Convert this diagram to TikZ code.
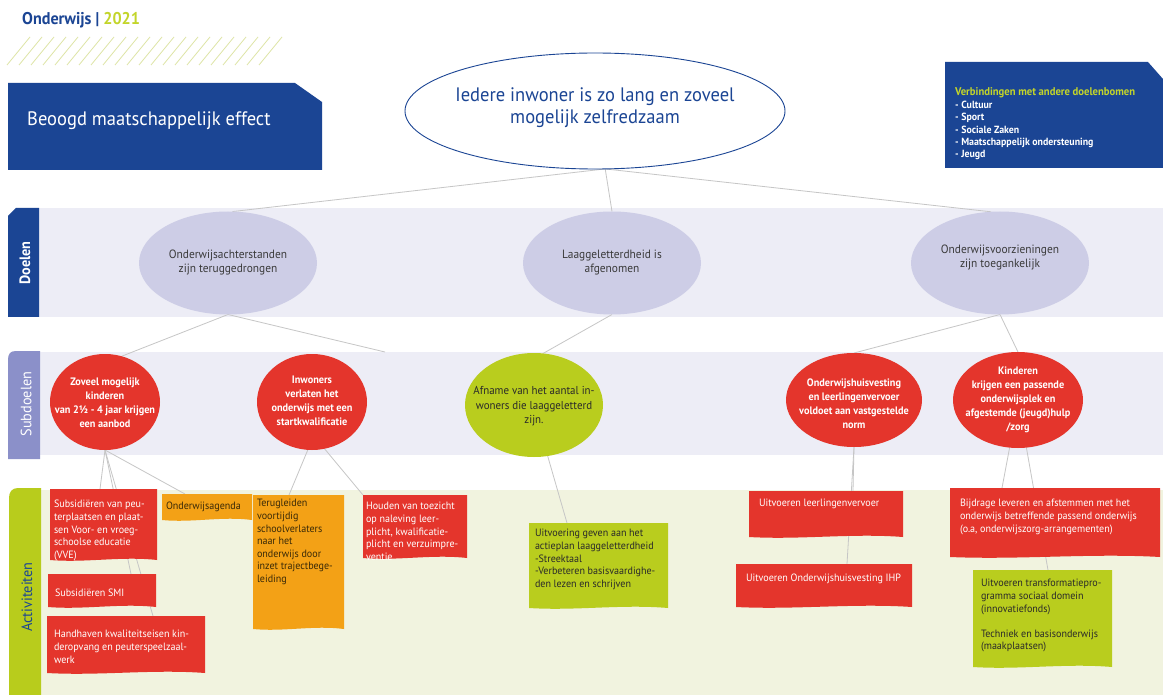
\documentclass[tikz,border=0pt]{standalone}
\usepackage{fontspec}
\setmainfont{PT Sans}[FakeStretch=0.95]
\usetikzlibrary{shapes.geometric}
\definecolor{dblue}{HTML}{1B4594}
\definecolor{limeg}{HTML}{B8CC1C}
\definecolor{titlelime}{HTML}{C3D52A}
\definecolor{boxred}{HTML}{E4352C}
\definecolor{txtred}{HTML}{FFFFFF}
\definecolor{boxorg}{HTML}{F3A116}
\definecolor{txtorg}{HTML}{3A2A08}
\definecolor{boxlime}{HTML}{B9CD1E}
\definecolor{txtlime}{HTML}{2A2A2A}
\definecolor{bandlav}{HTML}{EDEDF6}
\definecolor{goalfill}{HTML}{CDCDE6}
\definecolor{subtab}{HTML}{8B90C9}
\definecolor{bandact}{HTML}{F1F3DF}
\definecolor{linegray}{HTML}{C6C6C6}
\definecolor{hatchc}{HTML}{DEE5A6}
\definecolor{goaltxt}{HTML}{3A3A3A}
\pgfdeclarelayer{bg}
\pgfdeclarelayer{lines}
\pgfdeclarelayer{boxes}
\pgfsetlayers{bg,lines,boxes,main}
\newcommand\ctext[2][0pt]{\makebox[0pt]{\raisebox{\dimexpr-2.5pt+#1\relax}[0pt][0pt]{\begin{tabular}{@{}c@{}}#2\end{tabular}}}}
\tikzset{
  ell/.style={ellipse, inner sep=0pt, outer sep=0pt},
  goal/.style={ell, fill=goalfill, minimum width=178pt, minimum height=103pt, text=goaltxt, font=\fontsize{12}{14.5}\selectfont},
  subred/.style={ell, fill=boxred, text=white, font=\bfseries\fontsize{10.8}{13.8}\selectfont},
  actnode/.style={anchor=north west, inner sep=0pt, outer sep=0pt, font=\fontsize{10.6}{12.6}\selectfont},
  conn/.style={draw=linegray, line width=0.8pt},
  tablbl/.style={rotate=90, inner sep=0pt, font=\fontsize{15}{18}\selectfont}
}
% name, kind, x, y, w, h, first baseline, left pad, text
\newcommand\actbox[9]{%
  \node[actnode, text=txt#2] (#1) at (#3,-#4) {\vbox to #6pt{\vskip\dimexpr#7pt-9pt\relax\hbox to #5pt{\hskip#8pt\begin{tabular}[t]{@{}l@{}}#9\end{tabular}\hss}\vss}};
  \begin{pgfonlayer}{boxes}
    \fill[box#2] (#1.north west) -- (#1.north east) -- (#1.south east) .. controls +(-#5/3,4) and +(#5/3,-3) .. (#1.south west) -- cycle;
  \end{pgfonlayer}%
}
\begin{document}
\begin{tikzpicture}[x=1pt,y=1pt]
\useasboundingbox (0,0) rectangle (1163,-695);
\begin{pgfonlayer}{bg}
  \fill[white] (0,0) rectangle (1163,-695);
  % hatching
  \foreach \i in {0,...,21} \draw[hatchc, line width=0.8pt] (7+12*\i,-65) -- (30+12*\i,-37);
  % header boxes
  \fill[dblue] (8,-83) -- (295,-83) -- (322,-102) -- (322,-170) -- (8,-170) -- cycle;
  \fill[dblue] (945,-62) -- (1148,-62) -- (1163,-79) -- (1163,-168) -- (945,-168) -- cycle;
  % bands
  \fill[bandlav] (39,-208) rectangle (1163,-317);
  \fill[bandlav] (40,-352) rectangle (1163,-455);
  \fill[bandact] (41,-490) rectangle (1163,-695);
  % tabs
  \fill[dblue] (8,-216) -- (16,-208) -- (39,-208) -- (39,-317) -- (8,-317) -- cycle;
  \fill[subtab] (8,-459) -- (8,-360) .. controls (8,-354) and (10,-351) .. (16,-351) -- (40,-351) -- (40,-459) -- cycle;
  \fill[limeg] (9,-695) -- (9,-498) .. controls (9,-492) and (12,-488) .. (18,-488) -- (41,-488) -- (41,-695) -- cycle;
\end{pgfonlayer}

% title and header texts
\node[anchor=base west, inner sep=0pt, font=\bfseries\fontsize{17}{20}\selectfont] (title) at (22,-25) {\textcolor{dblue}{Onderwijs |} \textcolor{titlelime}{2021}};
\node[anchor=base west, inner sep=0pt, text=white, font=\fontsize{19.5}{23}\selectfont] (effect) at (27,-126) {Beoogd maatschappelijk effect};
\node[anchor=base west, inner sep=0pt, text=white, font=\bfseries\fontsize{10.4}{12.4}\selectfont] (links) at (955,-96)
  {\begin{tabular}[t]{@{}l@{}}\textcolor{titlelime}{\fontsize{11.2}{12.4}\selectfont Verbindingen met andere doelenbomen}\\- Cultuur\\- Sport\\- Sociale Zaken\\- Maatschappelijk ondersteuning\\- Jeugd\end{tabular}};

% tab labels
\node[tablbl, text=white, font=\bfseries\fontsize{15}{18}\selectfont] (tabD) at (25,-263) {Doelen};
\node[tablbl, text=white] (tabS) at (26,-404) {Subdoelen};
\node[tablbl, text=dblue] (tabA) at (27,-597) {Activiteiten};

% top ellipse
\node[ell, minimum width=380pt, minimum height=116pt, draw=dblue, line width=0.9pt, fill=white, text=dblue, font=\fontsize{19.5}{22}\selectfont] (top) at (595,-111) {\ctext{Iedere inwoner is zo lang en zoveel\\mogelijk zelfredzaam}};

% goals
\node[goal] (g1) at (228,-263) {\ctext{Onderwijsachterstanden\\zijn teruggedrongen}};
\node[goal] (g2) at (612,-263) {\ctext{Laaggeletterdheid is\\afgenomen}};
\node[goal] (g3) at (1000,-263) {\ctext[5pt]{Onderwijsvoorzieningen\\zijn toegankelijk}};

% subgoals
\node[subred, minimum width=110pt, minimum height=96pt] (s1) at (105,-402) {\ctext[-2pt]{Zoveel mogelijk\\kinderen\\van 2½ - 4 jaar krijgen\\een aanbod}};
\node[subred, minimum width=110pt, minimum height=96pt] (s2) at (312,-402) {\ctext{Inwoners\\verlaten het\\onderwijs met een\\startkwalificatie}};
\node[ell, fill=boxlime, minimum width=138pt, minimum height=104pt, text=txtlime, font=\fontsize{11.5}{14.5}\selectfont] (s3) at (534,-405) {\ctext[-2pt]{Afname van het aantal in-\\woners die laaggeletterd\\zijn.}};
\node[subred, minimum width=136pt, minimum height=94pt] (s4) at (854,-400) {\ctext[-5pt]{Onderwijshuisvesting\\en leerlingenvervoer\\voldoet aan vastgestelde\\norm}};
\node[subred, minimum width=130pt, minimum height=96pt] (s5) at (1018,-400) {\ctext{Kinderen\\krijgen een passende\\onderwijsplek en\\afgestemde (jeugd)hulp\\/zorg}};

% activities
\actbox{A1}{red}{50}{489}{107}{71}{19}{4}{Subsidiëren van peu-\\terplaatsen en plaat-\\sen Voor- en vroeg-\\schoolse educatie\\(VVE)}
\actbox{A2}{org}{162}{494}{90}{26}{16}{4}{Onderwijsagenda}
\actbox{A3}{red}{48}{574}{108}{33}{23}{7}{Subsidiëren SMI}
\actbox{A4}{red}{47}{616}{158}{57}{22}{7}{Handhaven kwaliteitseisen kin-\\deropvang en peuterspeelzaal-\\werk}
\actbox{A5}{org}{253}{495}{91}{134}{12}{4}{Terugleiden\\voortijdig\\schoolverlaters\\naar het\\onderwijs door\\inzet trajectbege-\\leiding}
\actbox{A6}{red}{363}{495}{104}{63}{15}{3}{Houden van toezicht\\op naleving leer-\\plicht, kwalificatie-\\plicht en verzuimpre-\\ventie}
\actbox{A7}{lime}{529}{523}{139}{85}{14}{6}{Uitvoering geven aan het\\actieplan laaggeletterdheid\\-Streektaal\\-Verbeteren basisvaardighe-\\den lezen en schrijven}
\actbox{A8}{red}{749}{491}{154}{46}{16}{10}{Uitvoeren leerlingenvervoer}
\actbox{A9}{red}{736}{564}{176}{43}{18}{10}{Uitvoeren Onderwijshuisvesting IHP}
\actbox{A10}{red}{950}{488}{210}{69}{19}{10}{Bijdrage leveren en afstemmen met het\\onderwijs betreffende passend onderwijs\\(o.a, onderwijszorg-arrangementen)}
\actbox{A11}{lime}{973}{570}{139}{97}{17}{8}{Uitvoeren transformatiepro-\\gramma sociaal domein\\(innovatiefonds)\\ \\Techniek en basisonderwijs\\(maakplaatsen)}

\coordinate (g1end) at (385,-352);

\begin{pgfonlayer}{lines}
  \draw[conn] (top.-80) -- (g1.85);
  \draw[conn] (top.-80) -- (g2.north);
  \draw[conn] (top.-80) -- (g3.100);
  \draw[conn] (g1.south) -- (s1.70);
  \draw[conn] (g1.south) -- (g1end);
  \draw[conn] (g2.south) -- (s3.80);
  \draw[conn] (g3.south) -- (s4.north);
  \draw[conn] (g3.south) -- (s5.north);
  \draw[conn] (s1.south) -- ([xshift=50pt]A1.north west);
  \draw[conn] (s1.south) -- ([xshift=83pt]A3.north west);
  \draw[conn] (s1.south) -- ([xshift=106pt]A4.north west);
  \draw[conn] (s1.south) -- ([xshift=23pt]A2.north west);
  \draw[conn] (s2.-95) -- ([xshift=36pt]A5.north west);
  \draw[conn] (s2.-75) -- (A6.north west);
  \draw[conn] (s3.-75) -- ([xshift=38pt]A7.north west);
  \draw[conn] (s4.south) -- ([xshift=104pt]A8.north west);
  \draw[conn] (s4.south) -- ([xshift=111pt]A9.north west);
  \draw[conn] (s5.-100) -- ([xshift=52pt]A10.north west);
  \draw[conn] (s5.-80) -- ([xshift=75pt]A11.north west);
\end{pgfonlayer}
\end{tikzpicture}
\end{document}
